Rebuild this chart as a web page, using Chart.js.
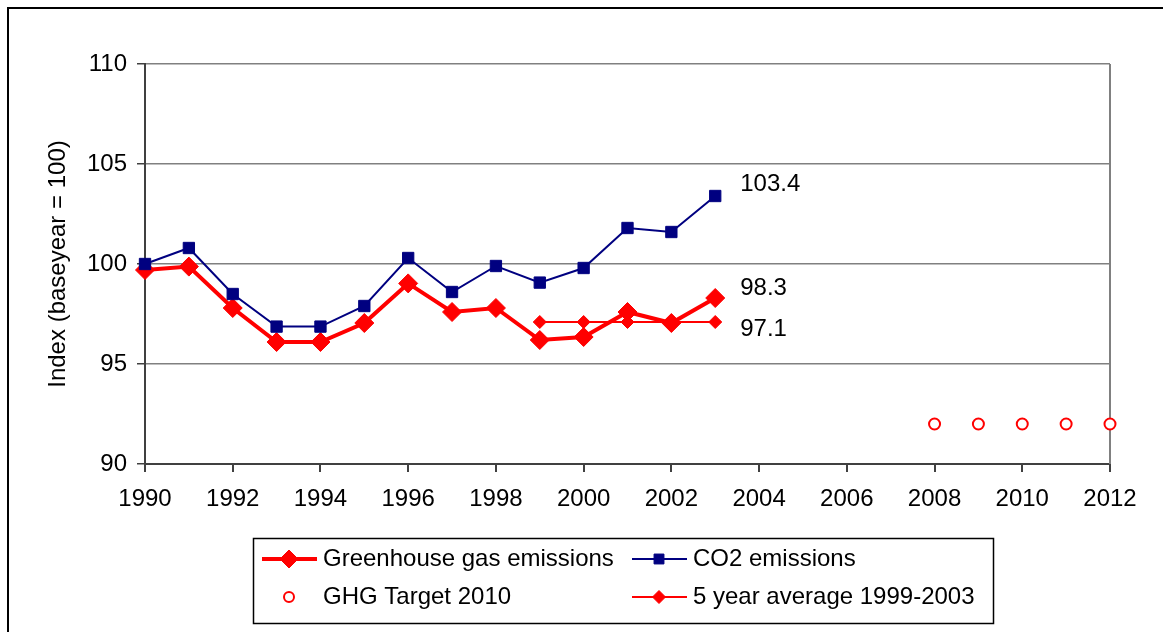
<!DOCTYPE html>
<html>
<head>
<meta charset="utf-8">
<script src="https://cdn.jsdelivr.net/npm/chart.js@4.4.1/dist/chart.umd.min.js"></script>
<style>
  body { margin: 0; background: #fff; }
  #wrap { position: relative; width: 1163px; height: 632px; }
</style>
</head>
<body>
<div id="wrap"><canvas id="myChart"></canvas></div>
<script>
// values
var years = [1990, 1991, 1992, 1993, 1994, 1995, 1996, 1997, 1998, 1999, 2000, 2001, 2002, 2003];
var ghg_values = [99.7, 99.87, 97.8, 96.1, 96.1, 97.05, 99.03, 97.6, 97.8, 96.2, 96.35, 97.6, 97.05, 98.3];
var co2_values = [100.0, 100.8, 98.5, 96.87, 96.87, 97.9, 100.3, 98.6, 99.9, 99.07, 99.8, 101.8, 101.6, 103.4];
var avg_years = [1999, 2000, 2001, 2002, 2003];
var avg_values = [97.1, 97.1, 97.1, 97.1, 97.1];
var target_years = [2008, 2009, 2010, 2011, 2012];
var target_values = [92, 92, 92, 92, 92];
var series_names = ['Greenhouse gas emissions', 'CO2 emissions', 'GHG Target 2010', '5 year average 1999-2003'];
var y_title = 'Index (baseyear = 100)';

var FONT = "'Liberation Sans', Arial, sans-serif";

function toPoints(xs, ys) {
    return xs.map(function (x, i) { return { x: x, y: ys[i] }; });
}

// outer frame, right plot edge
var framePlugin = {
    id: 'frame',
    beforeDraw: function (chart) {
        var c = chart.ctx;
        c.save();
        c.fillStyle = '#fff';
        c.fillRect(0, 0, chart.width, chart.height);
        c.fillStyle = '#000';
        c.fillRect(7, 7, chart.width - 7, 2);
        c.fillRect(7, 7, 2, chart.height - 7);
        c.restore();
    },
    beforeDatasetsDraw: function (chart) {
        var a = chart.chartArea;
        var c = chart.ctx;
        c.save();
        c.strokeStyle = '#808080';
        c.lineWidth = 2;
        c.beginPath();
        c.moveTo(a.right, a.top);
        c.lineTo(a.right, a.bottom);
        c.stroke();
        c.restore();
    }
};

// value labels next to the last points
var labelOffsets = { 0: [25, -10], 1: [25, -12], 3: [25, 7] };
var endLabelPlugin = {
    id: 'endLabels',
    afterDatasetsDraw: function (chart) {
        var c = chart.ctx;
        c.save();
        c.font = '24px ' + FONT;
        c.fillStyle = '#000';
        c.textAlign = 'left';
        c.textBaseline = 'middle';
        Object.keys(labelOffsets).forEach(function (k) {
            var i = parseInt(k);
            var meta = chart.getDatasetMeta(i);
            var pts = meta.data;
            var last = pts[pts.length - 1];
            var d = chart.data.datasets[i].data;
            var v = d[d.length - 1].y;
            c.fillText(v.toFixed(1), last.x + labelOffsets[k][0], last.y + labelOffsets[k][1]);
        });
        c.restore();
    }
};

// boxed two-column legend under the chart
var legendPlugin = {
    id: 'boxLegend',
    afterDraw: function (chart) {
        var c = chart.ctx;
        var ds = chart.data.datasets;
        c.save();
        c.strokeStyle = '#000';
        c.lineWidth = 1.5;
        c.strokeRect(253.5, 538.5, 740, 85);
        var cols = [262, 632];
        var rows = [559, 597];
        var slots = [[0, 0], [1, 0], [0, 1], [1, 1]];
        c.font = '24px ' + FONT;
        c.textBaseline = 'middle';
        c.textAlign = 'left';
        for (var i = 0; i < 4; i++) {
            var d = ds[i];
            var x0 = cols[slots[i][0]];
            var y0 = rows[slots[i][1]];
            if (d.showLine !== false) {
                c.strokeStyle = d.borderColor;
                c.lineWidth = d.borderWidth;
                c.beginPath();
                c.moveTo(x0, y0);
                c.lineTo(x0 + 55, y0);
                c.stroke();
            }
            c.fillStyle = d.pointBackgroundColor;
            c.strokeStyle = d.pointBorderColor;
            c.lineWidth = d.pointBorderWidth;
            Chart.helpers.drawPoint(c, {
                pointStyle: d.pointStyle,
                radius: d.legendRadius,
                rotation: 0,
                borderWidth: d.pointBorderWidth
            }, x0 + 27, y0);
            c.fillStyle = '#000';
            c.fillText(series_names[i], x0 + 61, y0);
        }
        c.restore();
    }
};

var ctx = document.getElementById('myChart').getContext('2d');
var myChart = new Chart(ctx, {
    type: 'line',
    data: {
        datasets: [{
            label: series_names[0],
            data: toPoints(years, ghg_values),
            order: 1,
            borderColor: '#ff0000',
            borderWidth: 4,
            pointStyle: 'rectRot',
            pointRadius: 9.5,
            legendRadius: 9,
            pointBackgroundColor: '#ff0000',
            pointBorderColor: '#ff0000',
            pointBorderWidth: 1,
            tension: 0,
            clip: false
        }, {
            label: series_names[1],
            data: toPoints(years, co2_values),
            order: 0,
            borderColor: '#000080',
            borderWidth: 2,
            pointStyle: 'rect',
            pointRadius: 8,
            legendRadius: 7,
            pointBackgroundColor: '#000080',
            pointBorderColor: '#000080',
            pointBorderWidth: 1,
            tension: 0,
            clip: false
        }, {
            label: series_names[2],
            data: toPoints(target_years, target_values),
            order: 2,
            showLine: false,
            borderColor: '#ff0000',
            borderWidth: 0,
            pointStyle: 'circle',
            pointRadius: 5.5,
            legendRadius: 5,
            pointBackgroundColor: '#ffffff',
            pointBorderColor: '#ff0000',
            pointBorderWidth: 2,
            clip: false
        }, {
            label: series_names[3],
            data: toPoints(avg_years, avg_values),
            order: 3,
            borderColor: '#ff0000',
            borderWidth: 2,
            pointStyle: 'rectRot',
            pointRadius: 6.5,
            legendRadius: 6.5,
            pointBackgroundColor: '#ff0000',
            pointBorderColor: '#ff0000',
            pointBorderWidth: 1,
            tension: 0,
            clip: false
        }]
    },
    options: {
        responsive: true,
        maintainAspectRatio: false,
        animation: false,
        layout: { padding: { left: 0, top: 64, right: 53, bottom: 0 } },
        plugins: {
            legend: { display: false },
            tooltip: { enabled: false }
        },
        scales: {
            x: {
                type: 'linear',
                min: 1990,
                max: 2012,
                afterFit: function (scale) { scale.height = 168; },
                ticks: {
                    stepSize: 2,
                    autoSkip: false,
                    maxRotation: 0,
                    padding: 13,
                    color: '#000',
                    font: { family: FONT, size: 24 },
                    callback: function (v) { return String(v); }
                },
                grid: {
                    drawOnChartArea: false,
                    drawTicks: true,
                    tickLength: 8,
                    color: '#404040',
                    lineWidth: 2
                },
                border: { color: '#404040', width: 2 }
            },
            y: {
                min: 90,
                max: 110,
                afterFit: function (scale) { scale.width = 145; },
                ticks: {
                    stepSize: 5,
                    padding: 10,
                    color: '#000',
                    font: { family: FONT, size: 24 }
                },
                grid: {
                    color: '#808080',
                    lineWidth: 1.5,
                    tickLength: 8,
                    tickColor: '#404040'
                },
                border: { color: '#404040', width: 2 },
                title: {
                    display: true,
                    text: y_title,
                    color: '#000',
                    font: { family: FONT, size: 24 },
                    padding: { top: 44, bottom: 0 }
                }
            }
        }
    },
    plugins: [framePlugin, endLabelPlugin, legendPlugin]
});
</script>
</body>
</html>
